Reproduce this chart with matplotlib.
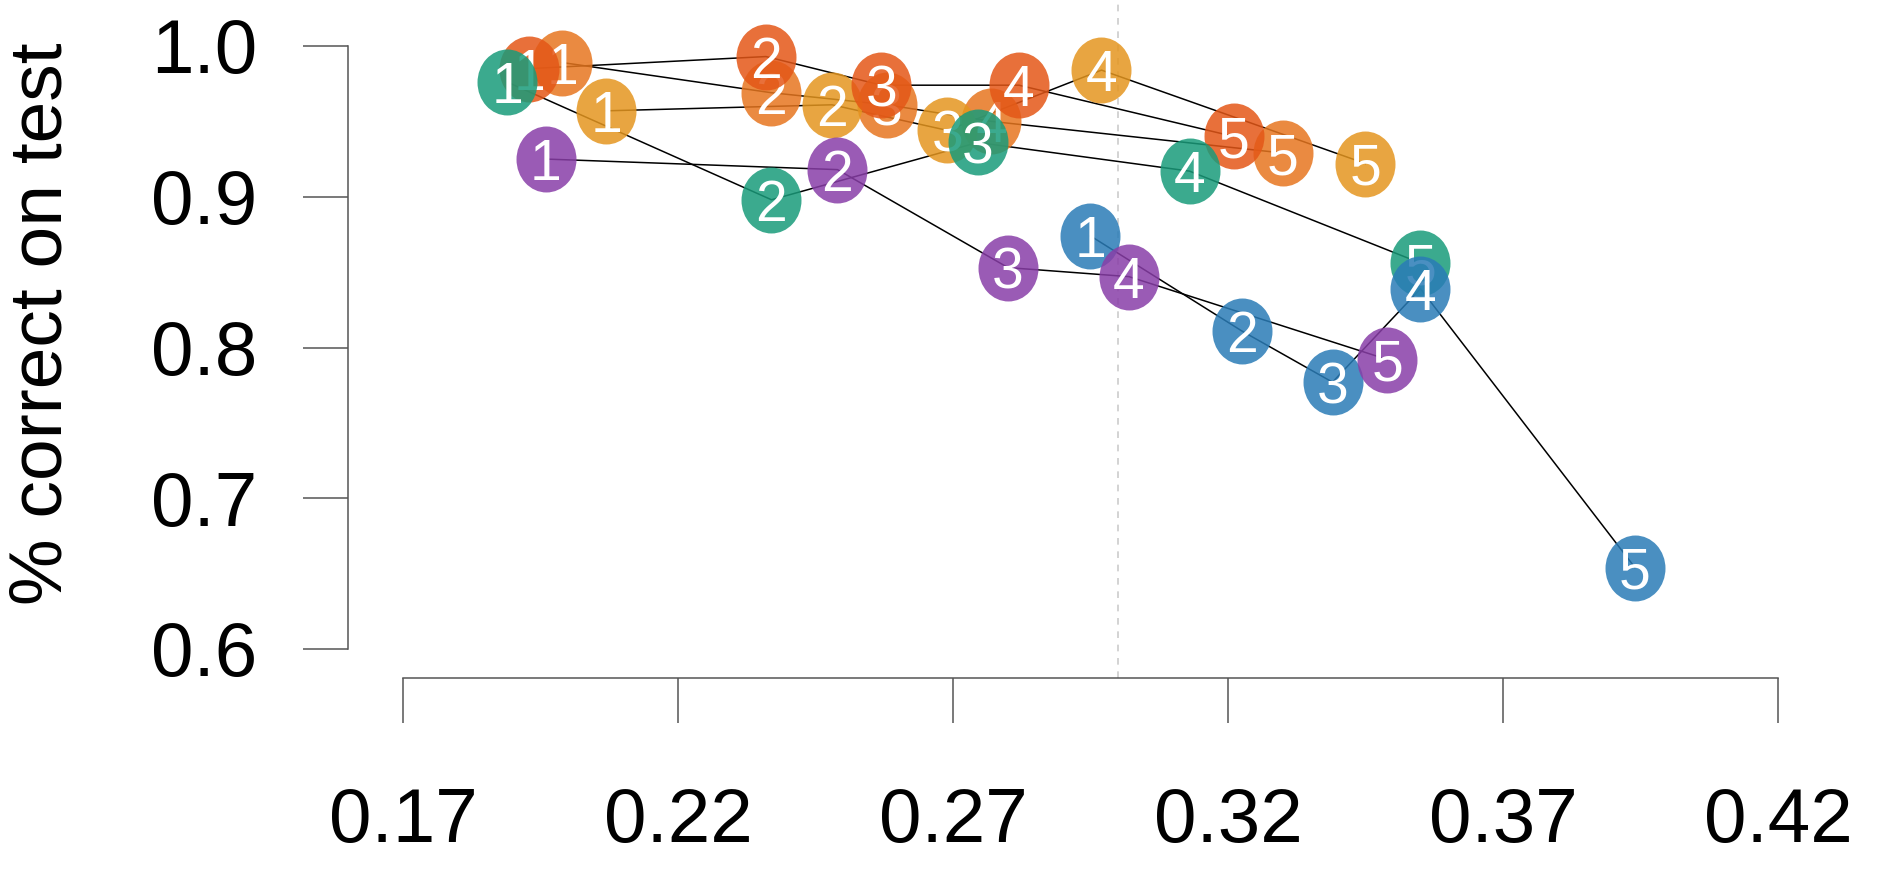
import matplotlib
matplotlib.use('Agg')
import matplotlib.pyplot as plt
import numpy as np
from matplotlib.path import Path

plt.rcParams['font.family'] = ['Liberation Sans', 'DejaVu Sans']

# five steps per setting, x = some rate, y = % correct on test
steps = ['1', '2', '3', '4', '5']

mid_orange_x = [0.199, 0.237, 0.258, 0.277, 0.330]
mid_orange_y = [0.989, 0.969, 0.961, 0.950, 0.929]

light_orange_x = [0.207, 0.248, 0.269, 0.297, 0.345]
light_orange_y = [0.957, 0.961, 0.944, 0.984, 0.922]

dark_orange_x = [0.193, 0.236, 0.257, 0.282, 0.321]
dark_orange_y = [0.985, 0.993, 0.974, 0.974, 0.940]

green_x = [0.189, 0.237, 0.2745, 0.313, 0.355]
green_y = [0.976, 0.898, 0.936, 0.917, 0.856]

blue_x = [0.295, 0.3225, 0.339, 0.355, 0.394]
blue_y = [0.874, 0.811, 0.777, 0.839, 0.654]

purple_x = [0.196, 0.249, 0.280, 0.302, 0.349]
purple_y = [0.925, 0.918, 0.853, 0.847, 0.792]

series = [
    (mid_orange_x, mid_orange_y, '#E7761F'),
    (light_orange_x, light_orange_y, '#E5961F'),
    (dark_orange_x, dark_orange_y, '#E45717'),
    (green_x, green_y, '#199B7A'),
    (blue_x, blue_y, '#2A7CB7'),
    (purple_x, purple_y, '#893EA8'),
]

xticks = [0.17, 0.22, 0.27, 0.32, 0.37, 0.42]
yticks = [0.6, 0.7, 0.8, 0.9, 1.0]
cutoff = 0.30

fig = plt.figure(figsize=(18.81, 8.74), dpi=100)
ax = fig.add_axes([348 / 1881, 196 / 874, 1452 / 1881, 678 / 874])

# slightly tall ellipse marker, like the original
circ = Path.unit_circle()
ell = Path(circ.vertices * np.array([1.0, 1.1]), circ.codes)

ax.axvline(cutoff, color='#cccccc', lw=1.2, ls=(0, (4, 4)), zorder=0)

for x, y, c in series:
    ax.plot(x, y, color='black', lw=1.1, zorder=1)

for i, (x, y, c) in enumerate(series):
    ax.scatter(x, y, s=47.5 ** 2, marker=ell, color=c, alpha=0.85,
               linewidths=0, zorder=2 + 2 * i)
    for xi, yi, lab in zip(x, y, steps):
        ax.text(xi, yi, lab, color='white', fontsize=41, ha='center',
                va='center_baseline', zorder=3 + 2 * i)

ax.set_xlim(0.16, 0.424)
ax.set_ylim(0.6 - 29 / 1507.5, 1.0 + 46 / 1507.5)

for s in ['top', 'right']:
    ax.spines[s].set_visible(False)
ax.spines['left'].set_bounds(0.6, 1.0)
ax.spines['bottom'].set_bounds(0.17, 0.42)
for s in ['left', 'bottom']:
    ax.spines[s].set_color('#555555')
    ax.spines[s].set_linewidth(1.1)

ax.set_xticks(xticks)
ax.set_xticklabels(['%.2f' % v for v in xticks])
ax.set_yticks(yticks)
ax.set_yticklabels(['%.1f' % v for v in yticks])
ax.tick_params(axis='both', length=32.5, width=1.1, color='#555555',
               labelsize=55, labelcolor='black')
ax.tick_params(axis='y', pad=33)
ax.tick_params(axis='x', pad=46)

fig.text(42 / 1881, 1 - 324 / 874, '% correct on test', rotation=90,
         ha='center', va='center', fontsize=54)

fig.savefig('out.png', dpi=100)
